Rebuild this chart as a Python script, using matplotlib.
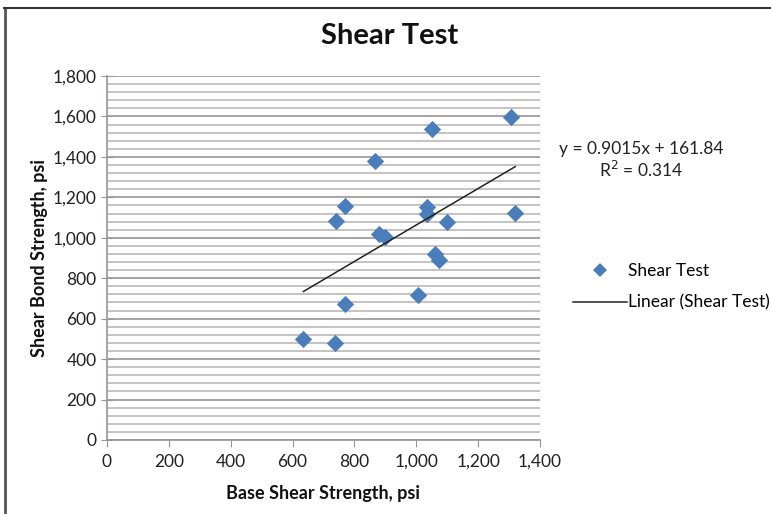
import matplotlib
matplotlib.use("Agg")
import matplotlib.pyplot as plt
from matplotlib.ticker import MultipleLocator, FuncFormatter
from matplotlib.lines import Line2D
import numpy as np

plt.rcParams['font.family'] = ['Lato', 'DejaVu Sans']

base_shear = [635, 737, 770, 740, 770, 865, 1050, 1305, 1320, 1035, 1035, 1100, 880, 900, 1060, 1075, 1005]
bond_shear = [500, 480, 675, 1085, 1155, 1380, 1540, 1595, 1125, 1150, 1120, 1080, 1020, 1005, 920, 890, 715]
slope = 0.9015
intercept = 161.84
r2 = 0.314

title = "Shear Test"
xlabel = "Base Shear Strength, psi"
ylabel = "Shear Bond Strength, psi"
series_name = "Shear Test"
trend_name = "Linear (Shear Test)"

W, H = 771, 514
fig = plt.figure(figsize=(W/100, H/100), dpi=100)
ax = fig.add_axes([107/W, 1-440/H, (540-107)/W, (440-76)/H])

blue = '#4A7EBB'
ax.scatter(base_shear, bond_shear, marker='D', s=78, color=blue, zorder=3, linewidths=0)
xs = np.array([min(base_shear), max(base_shear)])
ax.plot(xs, slope*xs + intercept, color='#222222', lw=1.1, zorder=4)

ax.set_xlim(0, 1400)
ax.set_ylim(0, 1800)
ax.xaxis.set_major_locator(MultipleLocator(200))
ax.yaxis.set_major_locator(MultipleLocator(200))
ax.yaxis.set_minor_locator(MultipleLocator(40))
fmt = FuncFormatter(lambda v, p: f"{int(v):,}")
ax.xaxis.set_major_formatter(fmt)
ax.yaxis.set_major_formatter(fmt)

ax.grid(axis='y', which='major', color='#a8a2a2', lw=1.4, zorder=0)
ax.grid(axis='y', which='minor', color='#c2bdbd', lw=1.3, zorder=0)
ax.set_axisbelow(True)
for s in ['top', 'right']:
    ax.spines[s].set_visible(False)
for s in ['left', 'bottom']:
    ax.spines[s].set_color('#9a9494')
    ax.spines[s].set_linewidth(1.2)
ax.tick_params(axis='both', which='major', color='#9a9494', length=5, labelsize=12.5, labelcolor='#222222')
ax.tick_params(axis='y', which='major', direction='inout', length=8)
ax.tick_params(axis='y', which='minor', length=0)
ax.tick_params(axis='x', which='major', direction='out', length=5, pad=5)

ax.set_xlabel(xlabel, fontsize=13, fontweight='bold', color='#111111')
ax.set_ylabel(ylabel, fontsize=13, fontweight='bold', color='#111111')
ax.xaxis.set_label_coords((323-107)/433, (440-485)/364)
ax.yaxis.set_label_coords((48-107)/433, 0.5)

fig.text(390/W, 1-36/H, title, ha='center', va='center', fontsize=21, fontweight='bold', color='#111111')

fig.text(641/W, 1-149/H, f"y = {slope}x + {intercept}", ha='center', va='center', fontsize=12.5, color='#222222')
fig.text(641/W, 1-170/H, f"R$^2$ = {r2}", ha='center', va='center', fontsize=12.5, color='#222222')

handles = [Line2D([], [], marker='D', color=blue, ls='none', markersize=7.5, markeredgewidth=0),
           Line2D([], [], color='#222222', lw=1.1)]
fig.legend(handles, [series_name, trend_name], loc='upper left', bbox_to_anchor=(566/W, 1-256/H),
           frameon=False, fontsize=12.5, handlelength=3.1, handletextpad=0.05, labelspacing=0.9, borderaxespad=0)

# outer chart border (top and left)
fig.add_artist(Line2D([4.5/W, 4.5/W], [0, 1-8/H], transform=fig.transFigure, color='#555555', lw=2))
fig.add_artist(Line2D([4/W, 1], [1-8/H, 1-8/H], transform=fig.transFigure, color='#333333', lw=1.5))

fig.savefig('out.png', dpi=100)
